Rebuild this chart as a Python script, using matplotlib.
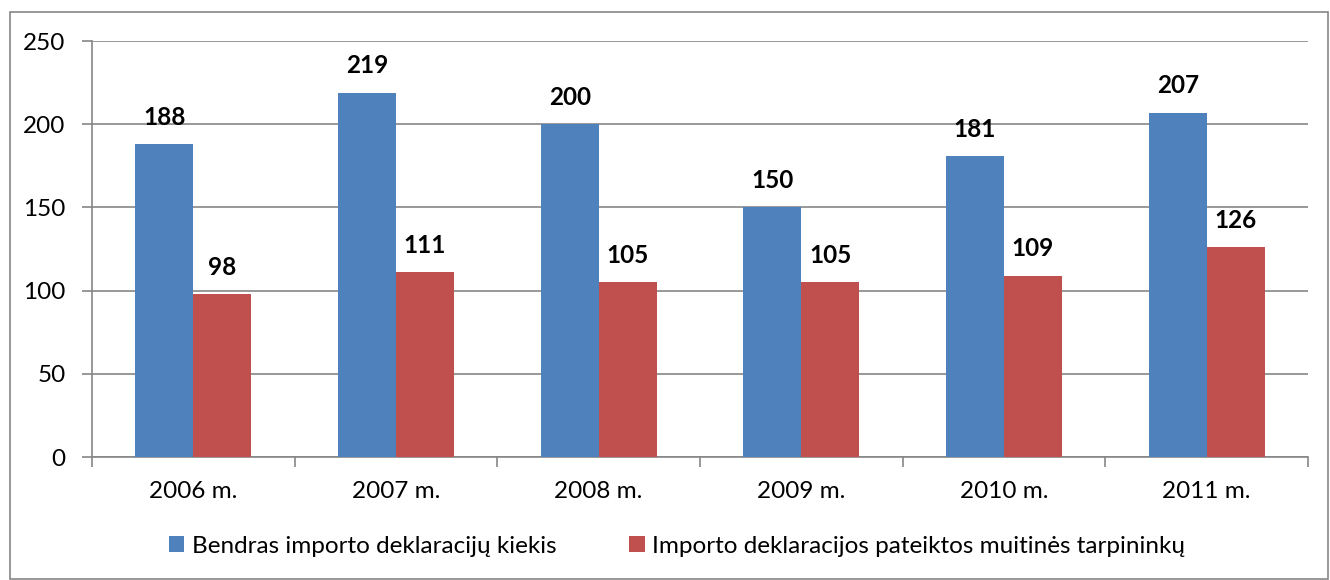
import matplotlib.pyplot as plt
import numpy as np
from matplotlib.patches import Rectangle

plt.rcParams["font.family"] = ["Lato", "DejaVu Sans"]

years = ["2006 m.", "2007 m.", "2008 m.", "2009 m.", "2010 m.", "2011 m."]
total = [188, 219, 200, 150, 181, 207]
brokers = [98, 111, 105, 105, 109, 126]
series_names = ["Bendras importo deklaracijų kiekis",
                "Importo deklaracijos pateiktos muitinės tarpininkų"]
colors = ["#4F81BD", "#C0504D"]

fig = plt.figure(figsize=(13.3, 5.8), dpi=100)
ax = fig.add_axes([92 / 1330, 123 / 580, 1216 / 1330, 416 / 580])

x = np.arange(len(years))
w = 1 / 3.5
b1 = ax.bar(x - w / 2, total, w, color=colors[0], label=series_names[0], zorder=3)
b2 = ax.bar(x + w / 2, brokers, w, color=colors[1], label=series_names[1], zorder=3)

for bars in (b1, b2):
    for r in bars:
        ax.annotate(f"{int(r.get_height())}", (r.get_x() + r.get_width() / 2, r.get_height()),
                    xytext=(0, 11), textcoords="offset points", ha="center", va="bottom",
                    fontsize=17.5, fontweight="bold", color="black")

ax.set_xlim(-0.5, len(years) - 0.5)
ax.set_ylim(0, 250)
ax.set_yticks(range(0, 251, 50))
ax.yaxis.grid(True, color="#868686", linewidth=1.2, zorder=0)
ax.set_xticks(x)
ax.set_xticklabels(years)
ax.set_xticks(np.arange(-0.5, len(years)), minor=True)
ax.tick_params(axis="x", which="major", length=0, pad=17, labelsize=17.5)
ax.tick_params(axis="x", which="minor", length=7, color="#868686", width=1.2)
ax.tick_params(axis="y", length=7, color="#868686", width=1.2, pad=12, labelsize=17.5)

for s in ["top", "right"]:
    ax.spines[s].set_visible(False)
for s in ["left", "bottom"]:
    ax.spines[s].set_color("#868686")
    ax.spines[s].set_linewidth(1.2)

fig.legend(handles=[b1, b2], loc="center", bbox_to_anchor=(0.509, 0.058), ncol=2,
           frameon=False, fontsize=17.5, handlelength=0.65, handleheight=0.65,
           handletextpad=0.3, columnspacing=3.0)

fig.patches.append(Rectangle((10 / 1330, 1 / 580), 1318 / 1330, 567 / 580,
                             transform=fig.transFigure, fill=False,
                             edgecolor="#868686", linewidth=1.2))

fig.savefig("out.png", dpi=100, facecolor="white")
